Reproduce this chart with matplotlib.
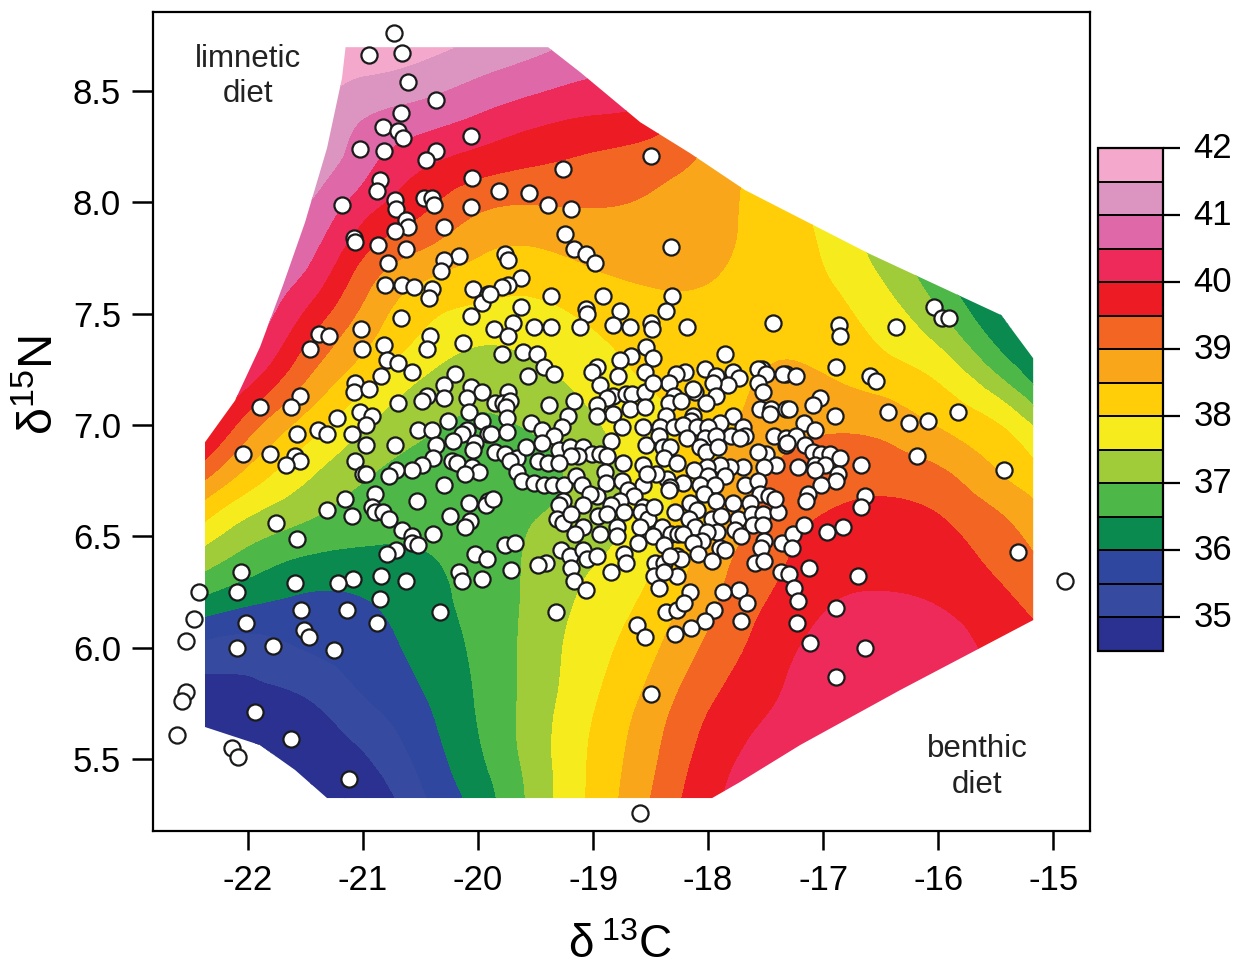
import numpy as np
import matplotlib
matplotlib.use("Agg")
import matplotlib.pyplot as plt
from matplotlib.cm import ScalarMappable
from matplotlib.colors import BoundaryNorm, ListedColormap
from matplotlib.patches import Polygon
from matplotlib.transforms import ScaledTranslation
from matplotlib.tri import Triangulation, UniformTriRefiner

plt.rcParams["font.family"] = ["Liberation Sans", "DejaVu Sans"]
plt.rcParams["mathtext.default"] = "regular"

# Surface, one column per grid_x, top (8.8) to bottom (5.2)
grid_x = [-22.5, -22, -21.5, -21, -20.5, -20, -19.5, -19, -18.5, -18, -17.5, -17, -16.5, -16, -15.5, -15]
grid_y = [8.8, 8.6, 8.4, 8.2, 8.0, 7.8, 7.6, 7.4, 7.2, 7.0, 6.8, 6.6, 6.4, 6.2, 6.0, 5.8, 5.6, 5.4, 5.2]
grid_z = [
    [44, 44, 44, 44, 43.4, 42.8, 42, 41.4, 41, 40.67, 39.57, 38.4, 37.4, 36.42, 35.43, 34.76, 34.38, 34.1, 33.8],
    [44, 44, 43.4, 42.3, 41.8, 41.4, 41.0, 40.75, 40.12, 39.24, 38.43, 37.55, 36.8, 36.05, 35.28, 34.88, 34.52, 34.2, 33.9],
    [42.8, 42.3, 41.9, 41.5, 41.05, 40.7, 40.23, 39.62, 39.0, 38.3, 37.65, 37.1, 36.45, 35.9, 35.53, 35.05, 34.75, 34.5, 34.2],
    [42.2, 41.6, 41.05, 40.7, 40.25, 39.65, 39.1, 38.67, 38.15, 37.55, 37.1, 36.75, 36.38, 35.95, 35.75, 35.52, 35.12, 34.75, 34.35],
    [42.0, 41.4, 40.8, 40.15, 39.65, 39.05, 38.38, 37.97, 37.48, 37.1, 36.85, 36.68, 36.45, 36.3, 36.15, 35.97, 35.75, 35.5, 35.2],
    [41.6, 41.1, 40.5, 39.83, 39.15, 38.6, 38.13, 37.6, 37.22, 36.93, 36.82, 36.75, 36.7, 36.65, 36.6, 36.55, 36.48, 36.3, 36.05],
    [41.3, 40.85, 40.2, 39.6, 39.03, 38.5, 38.05, 37.7, 37.35, 37.07, 36.85, 36.97, 37.1, 37.15, 37.2, 37.22, 37.27, 37.2, 37.2],
    [41.1, 40.6, 40.02, 39.43, 39.04, 38.68, 38.3, 37.95, 37.7, 37.43, 37.25, 37.25, 37.45, 37.65, 37.8, 37.92, 38.05, 38.1, 38.15],
    [40.5, 40.3, 39.85, 39.25, 38.95, 38.7, 38.48, 38.25, 38.03, 37.88, 37.75, 37.78, 37.92, 38.15, 38.38, 38.62, 38.82, 38.95, 39.1],
    [39.7, 39.5, 39.2, 38.9, 38.72, 38.6, 38.47, 38.3, 38.2, 38.22, 38.35, 38.5, 38.72, 38.88, 39.1, 39.38, 39.62, 39.8, 39.95],
    [38.6, 38.5, 38.4, 38.3, 38.3, 38.35, 38.33, 38.4, 38.55, 38.75, 38.95, 39.15, 39.3, 39.5, 39.7, 39.87, 40.1, 40.25, 40.35],
    [37.5, 37.55, 37.65, 37.75, 37.85, 37.95, 38.1, 38.3, 38.55, 38.93, 39.2, 39.5, 39.75, 39.95, 40.15, 40.3, 40.4, 40.45, 40.5],
    [36.9, 37.0, 37.05, 37.1, 37.2, 37.3, 37.6, 37.92, 38.3, 38.85, 39.25, 39.65, 39.85, 40.07, 40.25, 40.35, 40.45, 40.5, 40.55],
    [35.8, 35.9, 36, 36.1, 36.2, 36.4, 36.8, 37.35, 37.97, 38.47, 39.05, 39.5, 39.75, 39.98, 40.2, 40.3, 40.4, 40.45, 40.5],
    [34.6, 34.7, 34.8, 34.9, 35, 35.2, 35.8, 36.35, 37.15, 38.05, 38.5, 39.05, 39.37, 39.67, 39.88, 40.1, 40.25, 40.35, 40.4],
    [34.4, 34.4, 34.4, 34.4, 34.4, 34.6, 35, 35.6, 35.97, 37.13, 37.93, 38.44, 38.88, 39.22, 39.6, 39.9, 40.1, 40.2, 40.3],
]

# Outline of the coloured surface
hull_x = [-21.152, -21.183, -21.313, -21.504, -21.696, -21.896, -22.113, -22.374, -22.374, -21.896, -21.591, -21.313,
          -17.965, -17.722, -17.2, -16.33, -15.174, -15.174, -15.452, -16.609, -17.678, -18.157, -18.59, -19.113, -19.391]
hull_y = [8.697, 8.558, 8.244, 7.911, 7.628, 7.35, 7.11, 6.923, 5.644, 5.563, 5.451, 5.325,
          5.325, 5.397, 5.563, 5.81, 6.124, 7.30, 7.494, 7.772, 8.055, 8.221, 8.36, 8.585, 8.697]

levels = [34.5, 35, 35.5, 36, 36.5, 37, 37.5, 38, 38.5, 39, 39.5, 40, 40.5, 41, 41.5, 42]
band_colors = ["#2A3190", "#364AA0", "#2F479F", "#0B8A50", "#4DB848", "#A0CC3A", "#F6EB1C", "#FFCE08",
               "#FAA61A", "#F36523", "#ED1C24", "#EE2A5A", "#DF68A8", "#DB95C0", "#F4A8CC"]
bar_ticks = [35, 36, 37, 38, 39, 40, 41, 42]

# Individuals, delta 13C
d13c = [
    -20.73, -20.95, -20.66, -20.61, -20.37, -20.67, -20.83, -20.70, -20.65, -20.06, -21.03, -20.82, -20.37, -20.45,
    -20.85, -20.88, -20.05, -21.18, -20.72, -20.71, -20.47, -20.40, -20.38, -20.06, -20.63, -20.61, -20.72, -20.30,
    -21.08, -21.07, -20.87, -20.63, -20.17, -20.30, -20.32, -20.78,
    -20.81, -20.66, -20.56, -20.40, -20.43, -20.04, -19.91, -19.97, -20.67, -20.06, -21.02, -21.38, -21.30, -21.01,
    -21.46, -20.82, -20.42, -20.44, -20.13, -20.79, -20.70, -20.57, -20.84, -20.20, -21.07, -21.08, -20.95, -20.30,
    -20.44, -20.49, -20.30, -20.70, -20.06, -19.97, -20.10, -21.55, -21.63, -21.90, -21.03, -20.92, -21.23, -20.08,
    -20.26, -19.97, -20.97, -21.39, -21.31, -21.57, -21.10, -20.52, -20.40, -20.10, -20.14, -20.22, -19.91, -20.97,
    -20.72, -20.37, -20.03, -20.04, -22.04, -21.81, -21.59, -21.55, -21.67, -20.39, -21.07, -20.23, -20.18, -20.49,
    -20.57, -20.71, -20.77, -20.05, -19.99, -20.11, -21.00, -20.97, -20.30, -20.90, -21.16, -20.53, -20.08, -19.91,
    -19.93, -20.92, -21.31, -20.90, -20.83, -21.10, -20.77, -20.24, -20.07, -20.11, -21.76, -20.66, -20.57, -20.39,
    -21.57,
    -20.57, -20.52, -20.71, -20.79, -20.03, -19.92, -20.17, -20.14, -19.97, -20.63, -20.84, -21.09, -21.22, -21.59,
    -22.06, -22.10, -22.43, -20.85, -21.54, -21.14, -20.33, -22.47, -22.02, -20.88, -21.51, -21.47, -22.54, -21.78,
    -22.10, -21.25, -22.54, -22.57, -21.94, -21.63, -22.62, -22.14, -22.09, -21.12,
    -18.50, -19.26, -19.82, -19.56, -19.39, -19.19, -19.24, -19.17, -19.06, -18.98, -18.32, -19.77, -19.74, -19.63,
    -19.74, -19.79, -19.90, -19.37, -18.91, -18.31, -19.63, -19.06, -19.05, -18.77, -18.37, -19.70, -19.86, -19.74,
    -19.51, -19.37, -19.11, -18.83, -18.68, -18.50, -18.49, -18.18, -18.54, -19.79, -19.61, -19.49, -18.67, -18.48,
    -18.77,
    -19.43, -19.34, -19.57, -18.97, -19.01, -18.78, -18.55, -18.94, -19.74, -19.85, -19.78, -19.72, -19.76, -19.17,
    -19.38, -18.83, -18.88, -18.71, -18.66, -18.55, -18.97, -18.68, -18.55, -18.83, -18.97, -19.75, -19.22, -19.54,
    -19.27, -19.44, -18.75, -18.57, -19.89, -19.75, -19.34, -19.44, -18.84, -18.54, -19.85, -19.77, -19.66, -19.72,
    -19.58, -19.30, -19.20, -19.09, -19.01, -18.94, -18.88, -19.13, -19.19, -19.48, -19.39, -19.30, -18.74, -18.57,
    -19.66, -18.90, -19.62, -19.51, -19.43, -19.35, -19.25, -19.15, -19.10, -18.89, -18.75, -18.57, -18.70, -18.64,
    -18.97, -19.03, -19.87, -19.26, -19.30, -19.09, -18.77, -18.84, -18.57,
    -19.31, -19.26, -19.19, -19.09, -19.16, -18.96, -18.88, -18.94, -18.79, -18.79, -18.73, -18.58, -18.52, -18.59,
    -18.47, -18.40, -18.29, -18.48, -18.32, -18.61, -18.38, -18.26, -19.28, -19.20, -19.09, -19.05, -18.97, -18.73,
    -18.71, -18.84, -18.46, -18.38, -18.27, -18.47, -18.43, -18.27, -19.19, -19.17, -19.06, -19.41, -19.48, -19.71,
    -19.77, -19.68, -19.32, -18.37, -18.27, -18.62, -18.55, -18.29, -18.50, -18.59,
    -17.85, -18.20, -18.28, -18.03, -17.93, -17.78, -17.73, -17.53, -17.57, -17.50, -17.32, -17.35, -17.57, -17.52,
    -17.83, -17.96, -18.34, -18.48, -18.11, -18.13, -17.93, -18.02, -18.30, -18.34, -18.24, -17.55, -17.45, -17.46,
    -17.32, -18.37, -18.13, -18.15, -17.78, -17.90, -18.42, -18.30, -18.22, -18.10, -17.70, -18.00, -17.80, -17.68,
    -17.72, -18.43, -18.18, -18.03, -17.93, -17.43, -17.32, -18.39, -18.33, -18.07, -18.02, -17.91, -17.50, -17.57,
    -17.32, -18.38, -18.27, -17.41, -17.51, -17.70, -17.81, -17.90, -18.01, -18.12, -18.36, -18.45, -18.53, -18.00,
    -17.85, -18.22, -18.07, -17.94, -17.68, -17.57, -18.33,
    -18.34, -18.04, -17.93, -17.55, -17.47, -17.78, -17.64, -18.16, -18.10, -17.97, -18.17, -17.89, -17.74, -17.62,
    -17.52, -17.39, -17.61, -17.52, -18.11, -17.92, -17.77, -17.71, -18.22, -18.01, -18.05, -18.13, -17.51, -17.36,
    -17.26, -17.27, -17.90, -17.85, -17.54, -18.09, -18.24, -18.33, -17.97, -17.59, -17.51, -18.38, -17.37, -17.30,
    -17.25, -17.22, -17.73, -17.87, -18.16, -18.21, -17.66, -17.95, -18.03, -17.71, -18.15, -17.23,
    -16.04, -15.97, -15.91, -16.86, -16.85, -16.37, -17.44, -16.89, -16.59, -16.54, -17.24, -17.03, -17.09, -16.44,
    -16.90, -15.83, -16.25, -16.09, -17.30, -17.17, -17.07, -17.24, -17.31, -16.18, -17.16, -17.09, -17.02, -16.94,
    -16.85, -16.67, -15.43, -17.22, -17.07, -16.98, -17.07, -16.87, -16.89, -17.02, -16.64, -16.67, -17.13, -17.15,
    -17.42, -16.83, -16.97, -17.17, -15.31, -17.12, -16.70, -14.90, -17.11, -16.89, -16.64, -16.89,
]

# Individuals, delta 15N, same order
d15n = [
    8.76, 8.66, 8.67, 8.54, 8.46, 8.40, 8.34, 8.32, 8.29, 8.30, 8.24, 8.23, 8.23, 8.19,
    8.10, 8.05, 8.11, 7.99, 8.01, 7.97, 8.02, 8.02, 7.99, 7.98, 7.92, 7.89, 7.87, 7.89,
    7.84, 7.82, 7.81, 7.79, 7.76, 7.74, 7.69, 7.73,
    7.63, 7.63, 7.62, 7.61, 7.57, 7.61, 7.59, 7.55, 7.48, 7.49, 7.43, 7.41, 7.40, 7.34,
    7.34, 7.36, 7.40, 7.34, 7.37, 7.29, 7.28, 7.24, 7.22, 7.23, 7.19, 7.15, 7.16, 7.18,
    7.13, 7.11, 7.12, 7.10, 7.17, 7.15, 7.12, 7.13, 7.08, 7.08, 7.06, 7.04, 7.03, 7.06,
    7.02, 7.02, 7.00, 6.98, 6.96, 6.96, 6.96, 6.98, 6.98, 6.98, 6.96, 6.93, 6.96, 6.91,
    6.91, 6.91, 6.92, 6.89, 6.87, 6.87, 6.86, 6.84, 6.82, 6.85, 6.84, 6.84, 6.83, 6.82,
    6.80, 6.80, 6.77, 6.81, 6.79, 6.78, 6.78, 6.78, 6.73, 6.69, 6.67, 6.66, 6.65, 6.66,
    6.64, 6.63, 6.62, 6.61, 6.61, 6.59, 6.58, 6.59, 6.57, 6.54, 6.56, 6.53, 6.50, 6.51,
    6.49,
    6.47, 6.46, 6.44, 6.42, 6.42, 6.40, 6.34, 6.30, 6.31, 6.30, 6.32, 6.31, 6.29, 6.29,
    6.34, 6.25, 6.25, 6.22, 6.17, 6.17, 6.16, 6.13, 6.11, 6.11, 6.08, 6.05, 6.03, 6.01,
    6.00, 5.99, 5.80, 5.76, 5.71, 5.59, 5.61, 5.55, 5.51, 5.41,
    8.21, 8.15, 8.05, 8.04, 7.99, 7.97, 7.86, 7.79, 7.77, 7.73, 7.80, 7.77, 7.74, 7.66,
    7.63, 7.62, 7.59, 7.58, 7.58, 7.58, 7.53, 7.52, 7.50, 7.51, 7.51, 7.46, 7.43, 7.40,
    7.44, 7.44, 7.44, 7.45, 7.44, 7.46, 7.43, 7.44, 7.35, 7.32, 7.33, 7.32, 7.31, 7.30,
    7.29,
    7.26, 7.23, 7.22, 7.26, 7.24, 7.22, 7.24, 7.18, 7.15, 7.10, 7.10, 7.11, 7.08, 7.11,
    7.09, 7.13, 7.12, 7.14, 7.14, 7.15, 7.09, 7.07, 7.08, 7.05, 7.04, 7.03, 7.04, 7.01,
    6.99, 6.98, 6.99, 6.99, 6.96, 6.97, 6.95, 6.92, 6.93, 6.91, 6.88, 6.87, 6.85, 6.84,
    6.90, 6.89, 6.90, 6.90, 6.87, 6.87, 6.86, 6.86, 6.86, 6.84, 6.83, 6.83, 6.83, 6.82,
    6.79, 6.79, 6.75, 6.74, 6.73, 6.73, 6.73, 6.77, 6.73, 6.74, 6.75, 6.73, 6.71, 6.68,
    6.68, 6.69, 6.67, 6.66, 6.64, 6.64, 6.66, 6.64, 6.63,
    6.58, 6.56, 6.60, 6.54, 6.51, 6.59, 6.60, 6.51, 6.54, 6.50, 6.61, 6.61, 6.58, 6.54,
    6.63, 6.54, 6.61, 6.50, 6.51, 6.47, 6.46, 6.51, 6.44, 6.41, 6.44, 6.40, 6.41, 6.42,
    6.38, 6.34, 6.38, 6.38, 6.41, 6.32, 6.27, 6.32, 6.36, 6.30, 6.26, 6.38, 6.37, 6.35,
    6.46, 6.47, 6.16, 6.16, 6.17, 6.10, 6.05, 6.06, 5.79, 5.26,
    7.32, 7.24, 7.23, 7.25, 7.22, 7.24, 7.21, 7.25, 7.25, 7.23, 7.23, 7.23, 7.19, 7.15,
    7.18, 7.19, 7.19, 7.19, 7.15, 7.16, 7.13, 7.10, 7.13, 7.10, 7.11, 7.07, 7.07, 7.05,
    7.07, 7.04, 7.04, 7.02, 7.04, 7.01, 6.99, 6.99, 7.00, 6.99, 6.99, 6.99, 6.95, 6.95,
    6.94, 6.95, 6.94, 6.94, 6.95, 6.95, 6.94, 6.90, 6.90, 6.90, 6.88, 6.90, 6.87, 6.88,
    6.91, 6.85, 6.83, 6.82, 6.81, 6.81, 6.81, 6.82, 6.81, 6.80, 6.76, 6.78, 6.78, 6.77,
    6.77, 6.74, 6.73, 6.73, 6.73, 6.75, 6.72,
    6.71, 6.69, 6.66, 6.69, 6.68, 6.65, 6.65, 6.65, 6.62, 6.58, 6.58, 6.59, 6.58, 6.60,
    6.60, 6.61, 6.55, 6.55, 6.54, 6.52, 6.53, 6.50, 6.51, 6.52, 6.48, 6.47, 6.48, 6.47,
    6.51, 6.45, 6.45, 6.44, 6.45, 6.42, 6.40, 6.41, 6.39, 6.38, 6.39, 6.34, 6.34, 6.33,
    6.27, 6.21, 6.26, 6.25, 6.25, 6.20, 6.20, 6.17, 6.12, 6.12, 6.09, 6.11,
    7.53, 7.48, 7.48, 7.45, 7.40, 7.44, 7.46, 7.26, 7.22, 7.20, 7.22, 7.12, 7.09, 7.06,
    7.04, 7.06, 7.01, 7.02, 7.07, 7.01, 6.98, 6.95, 6.92, 6.86, 6.91, 6.88, 6.87, 6.87,
    6.85, 6.82, 6.80, 6.81, 6.82, 6.82, 6.80, 6.78, 6.75, 6.73, 6.68, 6.63, 6.69, 6.66,
    6.67, 6.54, 6.52, 6.55, 6.43, 6.36, 6.32, 6.30, 6.02, 6.18, 6.00, 5.87,
]

x_ticks = [-22, -21, -20, -19, -18, -17, -16, -15]
y_ticks = [5.5, 6.0, 6.5, 7.0, 7.5, 8.0, 8.5]

W, H = 1243, 969
fig = plt.figure(figsize=(W / 100, H / 100), dpi=100)
ax = fig.add_axes([153 / W, (H - 831) / H, 937 / W, 819 / H])

cmap = ListedColormap(band_colors)
cmap.set_under(band_colors[0])
cmap.set_over(band_colors[-1])
norm = BoundaryNorm(levels, cmap.N)

# smooth the surface with the cubic refiner, then fill the bands
X, Y = np.meshgrid(grid_x, grid_y, indexing="ij")
tri = Triangulation(X.ravel(), Y.ravel())
tri_fine, z_fine = UniformTriRefiner(tri).refine_field(np.array(grid_z).ravel(), subdiv=3)
cf = ax.tricontourf(tri_fine, z_fine, levels=levels, cmap=cmap, norm=norm, extend="both")
cf.set_clip_path(Polygon(np.column_stack([hull_x, hull_y]), transform=ax.transData))

ax.scatter(d13c, d15n, s=135, facecolor="white", edgecolor="#1a1a1a", linewidth=1.6, zorder=3, clip_on=False)

ax.set_xlim(-22.826, -14.68)
ax.set_ylim(5.177, 8.855)
ax.set_xticks(x_ticks)
ax.set_yticks(y_ticks)
ax.set_xticklabels([str(t) for t in x_ticks])
ax.set_yticklabels([f"{t:.1f}" for t in y_ticks])
ax.tick_params(axis="x", length=14, width=1.8, labelsize=25, pad=10)
ax.tick_params(axis="y", length=15, width=1.8, labelsize=25, pad=8)
for spine in ax.spines.values():
    spine.set_linewidth(1.6)

ax.set_xlabel("δ$\\,^{13}$C", fontsize=33)
ax.set_ylabel("δ$^{15}$N", fontsize=35)
ax.xaxis.set_label_coords(0.498, -0.113)
ax.yaxis.set_label_coords(-0.096, 0.545)

ax.text(-22.0, 8.645, "limnetic", fontsize=22.5, ha="center", va="center", color="#222222")
ax.text(-22.0, 8.485, "diet", fontsize=22.5, ha="center", va="center", color="#222222")
ax.text(-15.66, 5.545, "benthic", fontsize=22.5, ha="center", va="center", color="#222222")
ax.text(-15.66, 5.385, "diet", fontsize=22.5, ha="center", va="center", color="#222222")

cax = fig.add_axes([1098 / W, (H - 651) / H, 65 / W, 503 / H])
bar = fig.colorbar(ScalarMappable(norm=norm, cmap=cmap), cax=cax, ticks=bar_ticks, drawedges=True)
bar.dividers.set_linewidth(1.4)
bar.dividers.set_color("black")
bar.outline.set_linewidth(1.6)
bar.ax.minorticks_off()
bar.ax.tick_params(length=12, width=1.6, labelsize=25, pad=10)
# the bar's numbers sit a little above their ticks
nudge = ScaledTranslation(0, 3 / 100, fig.dpi_scale_trans)
for label in bar.ax.get_yticklabels():
    label.set_transform(label.get_transform() + nudge)

fig.savefig("out.png", dpi=100)
